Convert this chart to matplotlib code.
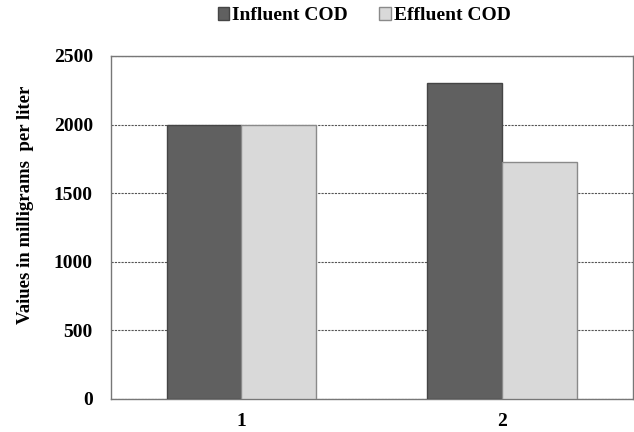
import numpy as np
import matplotlib.pyplot as plt

categories = ['1', '2']
influent = [2000, 2300]
effluent = [2000, 1725]
yticks = [0, 500, 1000, 1500, 2000, 2500]

plt.rcParams['font.family'] = ['Liberation Serif', 'DejaVu Serif']
plt.rcParams['font.weight'] = 'bold'

fig = plt.figure(figsize=(6.34, 4.32), dpi=100)
ax = fig.add_axes([0.175, 0.0764, 0.823, 0.794])

x = np.arange(len(categories))
w = 0.287
ax.bar(x - w / 2, influent, w, color='#606060', edgecolor='#454545', linewidth=1, label='Influent COD', zorder=3)
ax.bar(x + w / 2, effluent, w, color='#d9d9d9', edgecolor='#8a8a8a', linewidth=1, label='Effluent COD', zorder=3)

ax.set_xlim(-0.5, 1.5)
ax.set_ylim(0, 2500)
ax.set_yticks(yticks)
ax.set_xticks(x)
ax.set_xticklabels(categories)
ax.tick_params(axis='y', length=0, labelsize=14, pad=13)
ax.tick_params(axis='x', length=0, labelsize=14, pad=10)
for lab in ax.get_xticklabels() + ax.get_yticklabels():
    lab.set_fontweight('bold')
ax.yaxis.grid(True, linestyle=(0, (2, 1)), color='#555555', linewidth=0.8, zorder=0)
for s in ax.spines.values():
    s.set_color('#777777')
    s.set_linewidth(1)

ax.set_ylabel('Vaiues in milligrams  per liter', fontsize=13.5, fontweight='bold')
ax.yaxis.set_label_coords(-0.147, 0.566)

ax.legend(loc='center', bbox_to_anchor=(0.485, 1.117), ncol=2, frameon=False,
          prop={'weight': 'bold', 'size': 14}, handlelength=0.6, handleheight=0.6,
          handletextpad=0.15, columnspacing=1.6)

fig.savefig('out.png', dpi=100)
